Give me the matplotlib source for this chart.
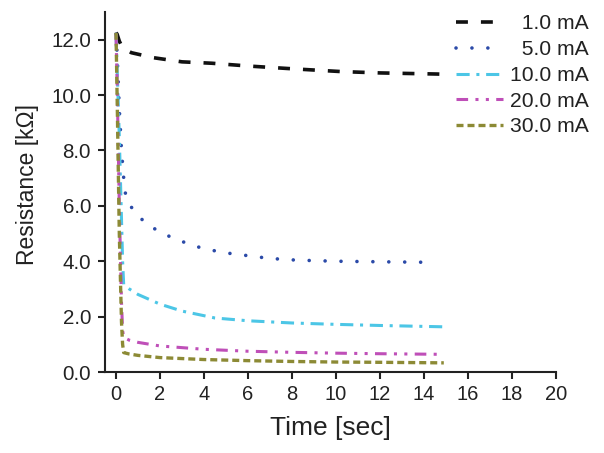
import matplotlib
matplotlib.use("Agg")
import matplotlib.pyplot as plt

plt.rcParams['font.family'] = ['Liberation Sans', 'DejaVu Sans']

labels = ["  1.0 mA", "  5.0 mA", "10.0 mA", "20.0 mA", "30.0 mA"]

t_1 = [0.0, 0.05, 0.15, 0.3, 0.7, 1.7, 3.0, 4.35, 6.0, 8.0, 10.2, 12.0, 14.6, 15.0]
r_1 = [12.25, 12.2, 11.95, 11.7, 11.53, 11.35, 11.2, 11.15, 11.05, 10.95, 10.85, 10.8, 10.76, 10.75]

t_5 = [0.0, 0.05, 0.15, 0.25, 0.35, 0.45, 0.7, 1.3, 2.0, 2.7, 3.4, 4.0, 5.0, 6.0, 7.0, 8.2, 10.0, 12.0, 14.4]
r_5 = [12.2, 11.5, 9.5, 8.0, 7.0, 6.3, 5.95, 5.4, 5.05, 4.8, 4.6, 4.45, 4.3, 4.2, 4.1, 4.04, 4.0, 3.98, 3.96]

t_10 = [0.0, 0.05, 0.15, 0.25, 0.3, 0.35, 0.6, 1.0, 2.0, 3.0, 4.5, 6.0, 8.0, 10.0, 12.0, 15.0]
r_10 = [12.2, 11.0, 8.5, 5.5, 4.0, 3.15, 3.0, 2.8, 2.45, 2.2, 1.95, 1.85, 1.77, 1.72, 1.68, 1.63]

t_20 = [0.0, 0.05, 0.15, 0.25, 0.3, 0.35, 0.6, 1.0, 2.0, 4.0, 6.0, 8.0, 10.0, 12.0, 14.6]
r_20 = [12.2, 10.5, 6.0, 2.5, 1.5, 1.25, 1.15, 1.07, 0.94, 0.82, 0.75, 0.71, 0.68, 0.66, 0.64]

t_30 = [0.0, 0.05, 0.15, 0.25, 0.3, 0.35, 0.6, 1.0, 2.0, 4.0, 6.0, 8.0, 10.0, 12.0, 14.9]
r_30 = [12.25, 10.0, 5.0, 1.8, 1.0, 0.7, 0.65, 0.6, 0.52, 0.45, 0.41, 0.38, 0.36, 0.35, 0.33]

x_ticks = list(range(0, 21, 2))
y_ticks = [0, 2, 4, 6, 8, 10, 12]

fig = plt.figure(figsize=(6.04, 4.53), dpi=100)
ax = fig.add_axes([105/604, 81/453, (556-105)/604, (441-81)/453])

series = [
    (t_1, r_1, dict(color="#111111", lw=2.6, ls=(0, (3.3, 3.6)))),
    (t_5, r_5, dict(color="#2b4aa8", lw=2.6, ls=(0, (0.01, 4.4)), dash_capstyle='round')),
    (t_10, r_10, dict(color="#4cc6e6", lw=2.2, ls=(0, (4.3, 2.2, 1, 2.2)))),
    (t_20, r_20, dict(color="#bf4fb8", lw=2.2, ls=(0, (3.8, 2.4, 1, 2.4, 1, 2.4)))),
    (t_30, r_30, dict(color="#8c8a35", lw=2.4, ls=(0, (2.1, 1.2)))),
]
for (t, r, st), lab in zip(series, labels):
    ax.plot(t, r, label=lab, **st)

ax.set_xlim(-0.5, 20)
ax.set_ylim(0, 13.0)
ax.set_xticks(x_ticks)
ax.set_yticks(y_ticks)
ax.set_yticklabels([f"{v:.1f}" for v in y_ticks])
for s in ['top', 'right']:
    ax.spines[s].set_visible(False)
for s in ['left', 'bottom']:
    ax.spines[s].set_linewidth(1.5)
    ax.spines[s].set_color('#222222')
ax.tick_params(direction='out', length=5, width=1.5, labelsize=14.8, colors='#222222', pad=5)
ax.tick_params(axis='x', labelsize=14.5, pad=4)
ax.set_xlabel("Time [sec]", fontsize=19, color='#222222', labelpad=9)
ax.set_ylabel("Resistance [kΩ]", fontsize=16.5, color='#222222')
ax.yaxis.set_label_coords(-0.146, 0.52)

leg = ax.legend(loc='upper right', bbox_to_anchor=(597/604, 447/453), bbox_transform=fig.transFigure,
                frameon=False, fontsize=15.2, handlelength=2.2, handletextpad=0.32,
                labelspacing=0.32, borderaxespad=0)
for txt in leg.get_texts():
    txt.set_color('#222222')

fig.savefig("out.png", dpi=100)
